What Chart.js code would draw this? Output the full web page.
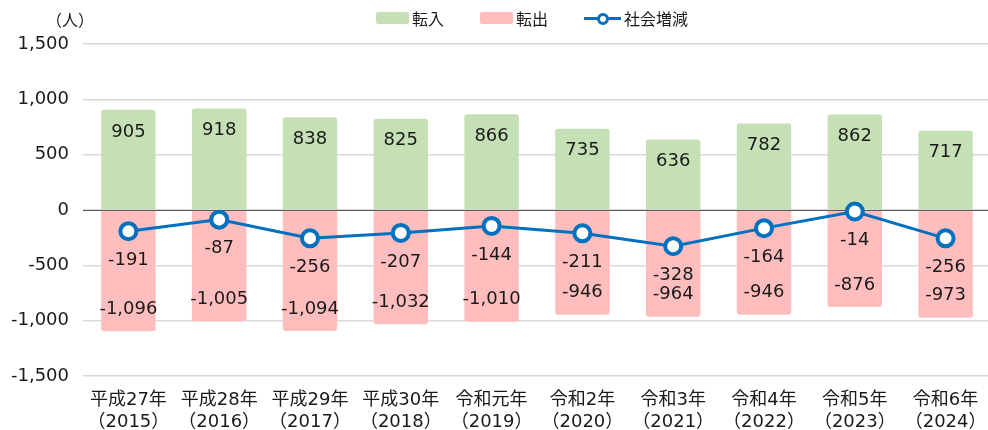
<!DOCTYPE html>
<html>
<head>
<meta charset="utf-8">
<script src="https://cdn.jsdelivr.net/npm/chart.js@4.4.1/dist/chart.umd.min.js"></script>
<style>
  html, body { margin: 0; padding: 0; background: #fff; overflow: hidden; width: 988px; height: 430px; }
  #wrap { position: relative; width: 1003px; height: 430px; }
  #unit { position: absolute; left: 46px; top: 7px; font: 16px "Noto Sans CJK JP"; color: #1a1a1a; }
  #legend { position: absolute; left: 376px; top: 6px; font: 16px "Noto Sans CJK JP"; color: #1a1a1a; display: flex; align-items: center; white-space: nowrap; }
  .sw { display: inline-block; width: 33px; height: 12px; margin-right: 3px; border-radius: 2px; }
  .lg { margin-right: 36px; display: flex; align-items: center; }
  .ln { position: relative; width: 37px; height: 12px; margin-right: 3px; }
  .ln:before { content: ""; position: absolute; left: 0; right: 0; top: 5px; height: 3px; background: #0070c0; }
  .ln:after { content: ""; position: absolute; left: 13px; top: 1px; width: 6px; height: 6px; border: 3px solid #0070c0; background: #fff; border-radius: 50%; }
</style>
</head>
<body>
<div id="wrap">
  <canvas id="c" width="1003" height="430"></canvas>
  <div id="unit">（人）</div>
  <div id="legend">
    <span class="lg"><span class="sw" style="background:#c5e0b4"></span>転入</span>
    <span class="lg"><span class="sw" style="background:#ffbdbd"></span>転出</span>
    <span class="lg"><span class="ln"></span>社会増減</span>
  </div>
</div>
<script>
const categories = [
  ["平成27年", "（2015）"], ["平成28年", "（2016）"], ["平成29年", "（2017）"],
  ["平成30年", "（2018）"], ["令和元年", "（2019）"], ["令和2年", "（2020）"],
  ["令和3年", "（2021）"], ["令和4年", "（2022）"], ["令和5年", "（2023）"],
  ["令和6年", "（2024）"]
];
const inflow = [905, 918, 838, 825, 866, 735, 636, 782, 862, 717];
const outflow = [-1096, -1005, -1094, -1032, -1010, -946, -964, -946, -876, -973];
const netChange = [-191, -87, -256, -207, -144, -211, -328, -164, -14, -256];
const yTicks = [-1500, -1000, -500, 0, 500, 1000, 1500];

const fmt = v => v.toLocaleString('en-US');
const FONT = '"DejaVu Sans", "Noto Sans CJK JP"';

const labelPlugin = {
  id: 'valueLabels',
  beforeDatasetDraw(chart, args) {
    if (args.meta.type !== 'line') return;
    const y = chart.scales.y.getPixelForValue(0);
    const ctx = chart.ctx;
    ctx.save();
    ctx.strokeStyle = '#595959';
    ctx.lineWidth = 1;
    ctx.beginPath();
    ctx.moveTo(chart.chartArea.left, Math.round(y) + 0.5);
    ctx.lineTo(chart.chartArea.right, Math.round(y) + 0.5);
    ctx.stroke();
    ctx.restore();
  },
  afterDatasetsDraw(chart) {
    const ctx = chart.ctx;
    ctx.save();
    ctx.font = '18px ' + FONT;
    ctx.fillStyle = '#1a1a1a';
    ctx.textAlign = 'center';
    ctx.textBaseline = 'middle';
    chart.data.datasets.forEach((ds, i) => {
      const meta = chart.getDatasetMeta(i);
      meta.data.forEach((el, j) => {
        const v = ds.data[j];
        let y;
        if (meta.type === 'line') y = el.y + 29;
        else if (v >= 0) y = el.y + 22;
        else y = el.y - 22;
        ctx.fillText(fmt(v), el.x, y);
      });
    });
    ctx.restore();
  }
};

new Chart(document.getElementById('c'), {
  data: {
    labels: categories,
    datasets: [
      { type: 'line', label: '社会増減', data: netChange, order: 0,
        borderColor: '#0070c0', borderWidth: 3, pointRadius: 8, pointHoverRadius: 8,
        pointBackgroundColor: '#ffffff', pointBorderColor: '#0070c0', pointBorderWidth: 4,
        tension: 0, fill: false },
      { type: 'bar', label: '転入', data: inflow, order: 1, backgroundColor: '#c5e0b4',
        borderRadius: 3, barPercentage: 0.6, categoryPercentage: 1 },
      { type: 'bar', label: '転出', data: outflow, order: 2, backgroundColor: '#ffbdbd',
        borderRadius: 3, barPercentage: 0.6, categoryPercentage: 1 }
    ]
  },
  options: {
    responsive: false,
    animation: false,
    layout: { padding: { top: 44, right: 2, left: 0, bottom: 0 } },
    plugins: { legend: { display: false }, tooltip: { enabled: false } },
    scales: {
      x: {
        stacked: true,
        grid: { display: false },
        border: { display: false },
        ticks: { color: '#1a1a1a', font: { family: FONT, size: 18, lineHeight: 1.22 }, padding: 5, maxRotation: 0, autoSkip: false },
        afterFit: s => { s.height = 54; }
      },
      y: {
        stacked: true,
        min: -1500, max: 1500,
        afterBuildTicks: s => { s.ticks = yTicks.map(v => ({ value: v })); },
        grid: { color: '#d9d9d9', lineWidth: 1.5, drawTicks: false },
        border: { display: false },
        ticks: { color: '#1a1a1a', font: { family: FONT, size: 18 }, padding: 14, callback: v => fmt(v) },
        afterFit: s => { s.width = 83; }
      }
    }
  },
  plugins: [labelPlugin]
});
</script>
</body>
</html>
